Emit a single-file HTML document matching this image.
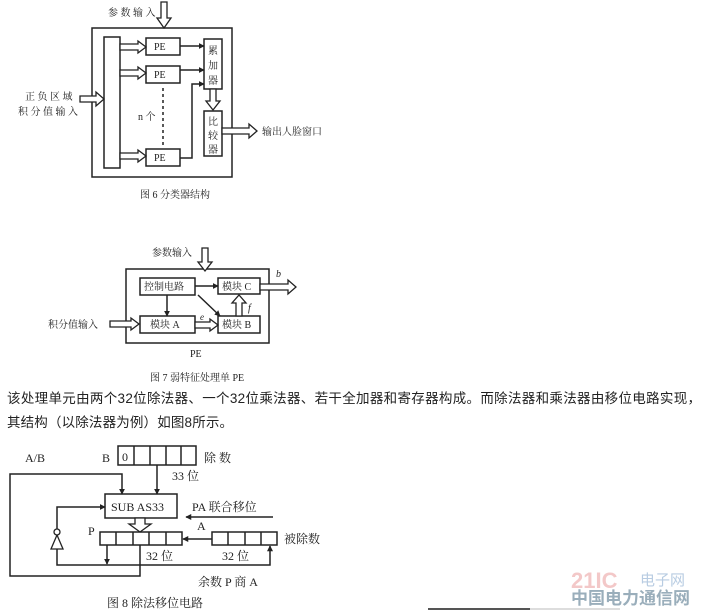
<!DOCTYPE html>
<html><head><meta charset="utf-8"><style>
body{margin:0;background:#fff;width:708px;height:612px;overflow:hidden}
svg{display:block}
text{font-family:"Liberation Serif","Noto Serif CJK SC",serif;fill:#222}
.s{fill:none;stroke:#222;stroke-width:1.5}
.h{fill:#fff;stroke:#222;stroke-width:1.3}
.t{font-size:10px}
</style></head><body>
<svg width="708" height="612" viewBox="0 0 708 612">
<defs><marker id="a" markerWidth="4" markerHeight="4" refX="3.5" refY="2" orient="auto"><path d="M0,0 L4,2 L0,4z" fill="#222"/></marker></defs>
<!-- Fig 6 -->
<rect class="s" x="92" y="28" width="140" height="149"/>
<rect class="s" x="104" y="37" width="16" height="131"/>
<polygon class="h" points="161,2 167,2 167,18 171,18 164,28 157,18 161,18"/>
<text class="t" x="108" y="16">参 数 输 入</text>
<polygon class="h" points="80,96 96,96 96,92 104,99 96,106 96,102 80,102"/>
<text class="t" x="25" y="100">正 负 区 域</text>
<text class="t" x="18" y="115">积 分 值 输 入</text>
<polygon class="h" points="120,44 138,44 138,41 146,47 138,53 138,50 120,50"/>
<polygon class="h" points="120,70 138,70 138,67 146,73 138,79 138,76 120,76"/>
<polygon class="h" points="120,153 138,153 138,150 146,156 138,162 138,159 120,159"/>
<rect class="s" x="146" y="38" width="34" height="17"/><text class="t" x="154" y="50">PE</text>
<rect class="s" x="146" y="66" width="34" height="17"/><text class="t" x="154" y="78">PE</text>
<rect class="s" x="146" y="149" width="34" height="17"/><text class="t" x="154" y="161">PE</text>
<line x1="163" y1="88" x2="163" y2="146" stroke="#222" stroke-width="1.5" stroke-dasharray="3,3"/>
<text class="t" x="138" y="120">n 个</text>
<line class="s" x1="180" y1="46" x2="204" y2="46" marker-end="url(#a)"/>
<line class="s" x1="180" y1="70" x2="204" y2="70" marker-end="url(#a)"/>
<polyline class="s" points="180,158 192,158 192,84 204,84" marker-end="url(#a)"/>
<rect class="s" x="204" y="39" width="18" height="50"/>
<text class="t" x="208" y="54">累</text><text class="t" x="208" y="69">加</text><text class="t" x="208" y="84">器</text>
<polygon class="h" points="210,89 216,89 216,101 220,101 213,110 206,101 210,101"/>
<rect class="s" x="204" y="111" width="18" height="45"/>
<text class="t" x="208" y="125">比</text><text class="t" x="208" y="139">较</text><text class="t" x="208" y="153">器</text>
<polygon class="h" points="222,128 249,128 249,124 257,131 249,138 249,134 222,134"/>
<text class="t" x="262" y="135">输出人脸窗口</text>
<text class="t" x="140" y="198">图 6  分类器结构</text>
<!-- Fig 7 -->
<rect class="s" x="126" y="269" width="143" height="74"/>
<polygon class="h" points="202,248 208,248 208,262 212,262 205,271 198,262 202,262"/>
<text class="t" x="152" y="256">参数输入</text>
<rect class="s" x="140" y="278" width="55" height="17"/><text class="t" x="144" y="290">控制电路</text>
<rect class="s" x="218" y="278" width="42" height="16"/><text class="t" x="222" y="290">模块 C</text>
<rect class="s" x="140" y="316" width="55" height="17"/><text class="t" x="150" y="328">模块 A</text>
<rect class="s" x="218" y="316" width="42" height="17"/><text class="t" x="222" y="328">模块 B</text>
<line class="s" x1="195" y1="286" x2="218" y2="286" marker-end="url(#a)"/>
<line class="s" x1="167" y1="295" x2="167" y2="316" marker-end="url(#a)"/>
<line class="s" x1="198" y1="295" x2="220" y2="316" marker-end="url(#a)"/>
<polygon class="h" points="195,322 210,322 210,319 218,325 210,331 210,328 195,328"/>
<text x="200" y="320" font-size="9" font-style="italic">e</text>
<polygon class="h" points="236,316 236,303 232,303 239,295 246,303 242,303 242,316"/>
<text x="248" y="311" font-size="10" font-style="italic">f</text>
<polygon class="h" points="260,284 288,284 288,280 296,287 288,294 288,290 260,290"/>
<text x="276" y="277" font-size="10" font-style="italic">b</text>
<polygon class="h" points="110,321 131,321 131,318 139,324 131,330 131,327 110,327"/>
<text class="t" x="48" y="328">积分值输入</text>
<text class="t" x="190" y="357">PE</text>
<text class="t" x="150" y="381">图 7  弱特征处理单 PE</text>
<!-- paragraph -->
<text x="7" y="403" font-size="13.5" textLength="694" lengthAdjust="spacing" style="font-family:'Liberation Sans','Noto Sans CJK SC',sans-serif" fill="#111">该处理单元由两个32位除法器、一个32位乘法器、若干全加器和寄存器构成。而除法器和乘法器由移位电路实现，</text>
<text x="7" y="427" font-size="13.5" textLength="226" lengthAdjust="spacing" style="font-family:'Liberation Sans','Noto Sans CJK SC',sans-serif" fill="#111">其结构（以除法器为例）如图8所示。</text>
<!-- Fig 8 -->
<text x="25" y="462" font-size="12">A/B</text>
<text x="102" y="462" font-size="12">B</text>
<rect class="s" x="118" y="446" width="78" height="19"/>
<line class="s" x1="134" y1="446" x2="134" y2="465"/><line class="s" x1="150" y1="446" x2="150" y2="465"/><line class="s" x1="166" y1="446" x2="166" y2="465"/><line class="s" x1="181" y1="446" x2="181" y2="465"/>
<text x="122" y="461" font-size="12">0</text>
<text x="204" y="462" font-size="12">除 数</text>
<text x="172" y="480" font-size="12">33 位</text>
<line class="s" x1="157" y1="465" x2="157" y2="494" marker-end="url(#a)"/>
<polyline class="s" points="140,545 140,576 10,576 10,474 122,474 122,494" marker-end="url(#a)"/>
<rect class="s" x="105" y="494" width="72" height="24"/>
<text x="111" y="511" font-size="12">SUB  AS33</text>
<text x="192" y="511" font-size="12">PA 联合移位</text>
<line class="s" x1="273" y1="517" x2="186" y2="517" marker-end="url(#a)"/>
<polygon class="h" points="135,518 145,518 145,524 151,524 140,532 129,524 135,524"/>
<text x="88" y="535" font-size="12">P</text>
<rect class="s" x="100" y="532" width="82" height="13"/>
<line class="s" x1="116" y1="532" x2="116" y2="545"/><line class="s" x1="133" y1="532" x2="133" y2="545"/><line class="s" x1="149" y1="532" x2="149" y2="545"/><line class="s" x1="166" y1="532" x2="166" y2="545"/>
<text x="197" y="530" font-size="12">A</text>
<line class="s" x1="212" y1="539" x2="183" y2="539" marker-end="url(#a)"/>
<rect class="s" x="212" y="532" width="65" height="13"/>
<line class="s" x1="228" y1="532" x2="228" y2="545"/><line class="s" x1="245" y1="532" x2="245" y2="545"/><line class="s" x1="261" y1="532" x2="261" y2="545"/>
<text x="284" y="543" font-size="12">被除数</text>
<text x="146" y="560" font-size="12">32 位</text>
<text x="222" y="560" font-size="12">32 位</text>
<line class="s" x1="107" y1="545" x2="107" y2="564" marker-end="url(#a)"/>
<polyline class="s" points="57,549 57,565 270,565 270,546" marker-end="url(#a)"/>
<polygon class="h" points="57,535 51,549 63,549"/>
<circle class="h" cx="57" cy="532" r="3"/>
<polyline class="s" points="57,529 57,507 105,507" marker-end="url(#a)"/>
<text x="198" y="586" font-size="12">余数 P  商 A</text>
<text x="107" y="607" font-size="12">图 8  除法移位电路</text>
<!-- watermark -->
<text x="571" y="588" font-size="22" font-weight="bold" style="fill:#f3c8c8;font-family:'Liberation Sans',sans-serif">21IC</text>
<text x="640" y="585" font-size="15" style="fill:#b8cce2;font-family:'Liberation Sans','Noto Sans CJK SC',sans-serif">电子网</text>
<text x="571" y="604" font-size="17" font-weight="bold" style="fill:#9aaebb;font-family:'Liberation Sans','Noto Sans CJK SC',sans-serif">中国电力通信网</text>
<line x1="428" y1="609" x2="530" y2="609" stroke="#555" stroke-width="2"/>
<line x1="530" y1="609" x2="620" y2="609" stroke="#ddd" stroke-width="2"/>
</svg>
</body></html>
